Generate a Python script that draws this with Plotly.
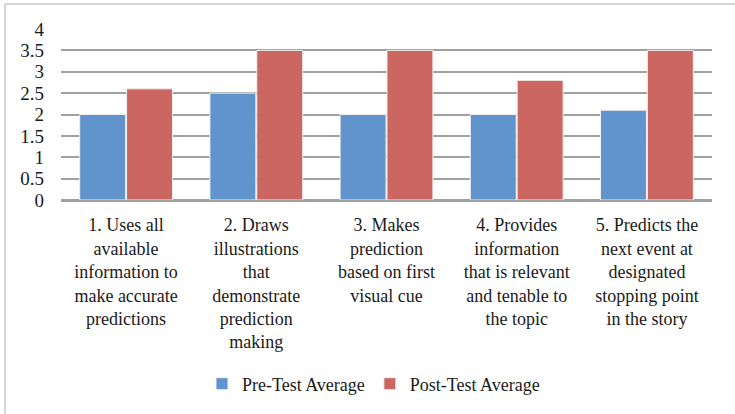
import plotly.graph_objects as go

categories = [
    "1. Uses all<br>available<br>information to<br>make accurate<br>predictions",
    "2. Draws<br>illustrations<br>that<br>demonstrate<br>prediction<br>making",
    "3. Makes<br>prediction<br>based on first<br>visual cue",
    "4. Provides<br>information<br>that is relevant<br>and tenable to<br>the topic",
    "5. Predicts the<br>next event at<br>designated<br>stopping point<br>in the story",
]
pre_test = [2.0, 2.5, 2.0, 2.0, 2.1]
post_test = [2.6, 3.5, 3.5, 2.8, 3.5]
y_ticks = [0, 0.5, 1, 1.5, 2, 2.5, 3, 3.5, 4]

font_family = "Liberation Serif, DejaVu Serif, serif"

fig = go.Figure()
fig.add_trace(go.Bar(
    x=categories, y=pre_test, name="Pre-Test Average",
    marker=dict(color="#6194CC", line=dict(color="#f0f0f0", width=1)),
))
fig.add_trace(go.Bar(
    x=categories, y=post_test, name="Post-Test Average",
    marker=dict(color="#CC6660", line=dict(color="#f0f0f0", width=1)),
))

fig.update_layout(
    width=735, height=414,
    margin=dict(l=61, r=23, t=29, b=214, autoexpand=False),
    paper_bgcolor="white", plot_bgcolor="white",
    barmode="group", bargap=0.28, bargroupgap=0.02,
    font=dict(family=font_family, size=18, color="#1a1a1a"),
    legend=dict(
        orientation="h", x=0.48, xanchor="center", y=-1.076, yanchor="middle",
        font=dict(size=18), itemwidth=30, tracegroupgap=0,
    ),
    shapes=[
        dict(type="line", xref="paper", yref="paper",
             x0=-0.086, x1=1.05, y0=1.146, y1=1.146,
             line=dict(color="#c8c8c8", width=1.5)),
        dict(type="line", xref="paper", yref="paper",
             x0=-0.086, x1=-0.086, y0=1.146, y1=-1.25,
             line=dict(color="#c8c8c8", width=1.5)),
    ],
)
fig.update_yaxes(
    range=[0, 4], tickvals=y_ticks, ticktext=[f"{v:g}" for v in y_ticks],
    showgrid=True, gridcolor="#a0a0a0", gridwidth=1.5,
    zeroline=True, zerolinecolor="#a0a0a0", zerolinewidth=1.5,
    showline=False, ticks="", ticklabelstandoff=16, tickfont=dict(size=19),
)
fig.update_xaxes(
    showgrid=False, showline=True, linecolor="#a0a0a0", linewidth=1.5,
    ticks="", tickangle=0, ticklabelstandoff=8,
)

fig.write_html(
    "out.html",
    config={"displayModeBar": False},
    post_script="document.body.style.margin='0';",
)
